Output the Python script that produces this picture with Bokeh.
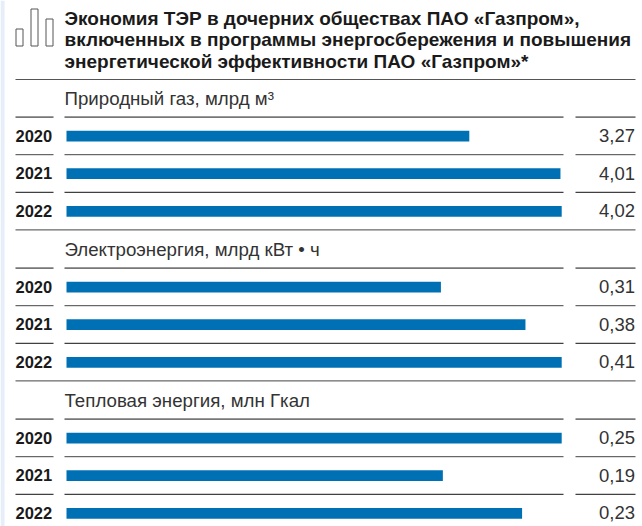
from bokeh.plotting import figure
from bokeh.models import Range1d, ColumnDataSource
from bokeh.core.properties import value
from bokeh.embed import file_html
from bokeh.resources import INLINE

title_lines = ["Экономия ТЭР в дочерних обществах ПАО «Газпром»,",
               "включенных в программы энергосбережения и повышения",
               "энергетической эффективности ПАО «Газпром»*"]
years = ["2020", "2021", "2022"]
group_names = ["Природный газ, млрд м³", "Электроэнергия, млрд кВт • ч", "Тепловая энергия, млн Гкал"]
gas = [3.27, 4.01, 4.02]
power = [0.31, 0.38, 0.41]
heat = [0.25, 0.19, 0.23]
series = [gas, power, heat]

W, H = 642, 526
BAR0, BAR1 = 66, 561.2
p = figure(width=W, height=H, x_range=Range1d(0, W), y_range=Range1d(H, 0),
           output_backend="svg", toolbar_location=None, min_border=0,
           outline_line_color=None, background_fill_color="white")
p.xaxis.visible = False
p.yaxis.visible = False
p.grid.visible = False

FONT = value("Liberation Sans")

def seg(x0, x1, y, color, w):
    p.segment(x0=[x0], x1=[x1], y0=[y], y1=[y], line_color=color, line_width=w)

# page edge band
p.quad(left=[0], right=[4], top=[0], bottom=[H], fill_color="#e6eef9", line_color=None)

# icon
for x0, top in [(15.5, 28.5), (30.5, 8.5), (45.5, 18.5)]:
    p.quad(left=[x0], right=[x0 + 7], top=[top], bottom=[45.5], fill_color=None,
           line_color="#555555", line_width=1)

# title
for i, line in enumerate(title_lines):
    p.text(x=[64], y=[17.5 + i * 21.5], text=[line], text_font=FONT, text_font_style="bold",
           text_font_size="19px", text_color="#1a1a1a", text_baseline="middle")
seg(15, 635, 79, "#555555", 1.2)

PITCH = 37.6
starts = [79, 230, 381]
for g, (name, vals, start) in enumerate(zip(group_names, series, starts)):
    p.text(x=[64], y=[start + 19], text=[name], text_font=FONT, text_font_size="18.7px",
           text_color="#333333", text_baseline="middle")
    head = start + PITCH
    seg(15, 53, head, "#777777", 1.6)
    seg(64, 563, head, "#777777", 1.6)
    seg(575, 635, head, "#777777", 1.6)
    k = max(vals) / (BAR1 - BAR0)
    rname = f"g{g}"
    p.extra_x_ranges[rname] = Range1d(-BAR0 * k, (W - BAR0) * k)
    ys = [head + 19.0 + j * PITCH for j in range(3)]
    src = ColumnDataSource(dict(y=ys, v=vals))
    p.hbar(y="y", left=0, right="v", height=10.8, source=src, fill_color="#0070b5",
           line_color=None, x_range_name=rname)
    for j, (yr, v) in enumerate(zip(years, vals)):
        yc = ys[j] - 0.5
        p.text(x=[15], y=[yc], text=[yr], text_font=FONT, text_font_style="bold",
               text_font_size="16.5px", text_color="#1a1a1a", text_baseline="middle")
        p.text(x=[634.5], y=[yc], text=[f"{v:.2f}".replace(".", ",")], text_font=FONT,
               text_font_size="18.5px", text_color="#333333", text_baseline="middle",
               text_align="right")
        if j < 2:
            ly = head + (j + 1) * PITCH
            c = "#444444" if j == 0 else "#111111"
            seg(15, 53, ly, c, 1)
            seg(64, 563, ly, c, 1)
            seg(575, 635, ly, c, 1)
    if g < 2:
        seg(15, 635, head + 3 * PITCH, "#444444", 1)

open("out.html", "w").write(file_html(p, INLINE))
